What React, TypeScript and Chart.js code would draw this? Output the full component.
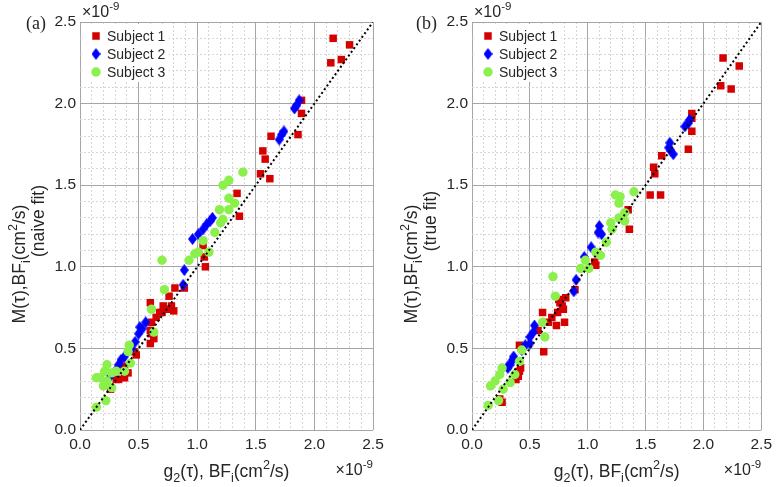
import React, { useEffect, useRef } from 'react';
import { Chart, registerables } from 'chart.js';

Chart.register(...registerables);

// ---------- data (values in units of 1e-9 cm^2/s) ----------
const naiveS1X = [2.16, 2.30, 2.14, 2.23, 1.89, 1.89, 1.63, 1.86, 1.56, 1.58, 1.54, 1.62, 1.34, 1.36, 1.05, 1.06, 1.07, 0.81, 0.89, 0.76, 0.71, 0.78, 0.60, 0.80, 0.68, 0.74, 0.65, 0.61, 0.60, 0.63, 0.60, 0.48, 0.46, 0.41, 0.38, 0.31, 0.38, 0.33, 0.26, 0.61, 0.70];
const naiveS1Y = [2.40, 2.36, 2.25, 2.27, 2.02, 1.94, 1.80, 1.81, 1.71, 1.66, 1.57, 1.54, 1.45, 1.31, 1.13, 1.06, 1.00, 0.87, 0.87, 0.82, 0.76, 0.76, 0.78, 0.73, 0.72, 0.74, 0.69, 0.66, 0.61, 0.56, 0.53, 0.46, 0.48, 0.35, 0.39, 0.31, 0.32, 0.31, 0.25, 0.59, 0.72];

const naiveS2X = [1.83, 1.85, 1.87, 1.70, 1.72, 1.74, 0.96, 1.01, 1.05, 1.08, 1.11, 1.13, 0.89, 0.88, 0.56, 0.53, 0.50, 0.47, 0.44, 0.38, 0.35, 0.33, 0.31, 0.26, 0.51];
const naiveS2Y = [1.97, 1.99, 2.02, 1.78, 1.81, 1.83, 1.17, 1.20, 1.23, 1.26, 1.28, 1.30, 0.98, 0.89, 0.66, 0.62, 0.59, 0.54, 0.50, 0.45, 0.43, 0.40, 0.37, 0.33, 0.63];

const naiveS3X = [1.39, 1.27, 1.22, 1.27, 1.32, 1.19, 1.27, 1.22, 1.20, 1.15, 1.05, 1.10, 0.98, 0.93, 1.01, 0.70, 0.72, 0.61, 0.63, 0.42, 0.41, 0.43, 0.38, 0.23, 0.21, 0.17, 0.27, 0.31, 0.27, 0.23, 0.22, 0.14, 0.14, 0.20];
const naiveS3Y = [1.58, 1.53, 1.50, 1.42, 1.39, 1.35, 1.35, 1.29, 1.27, 1.21, 1.16, 1.09, 1.08, 1.04, 1.09, 1.04, 0.86, 0.74, 0.60, 0.52, 0.48, 0.41, 0.36, 0.40, 0.36, 0.32, 0.35, 0.36, 0.26, 0.30, 0.18, 0.14, 0.32, 0.27];

const trueS1X = [2.17, 2.31, 2.15, 2.24, 1.90, 1.90, 1.90, 1.87, 1.64, 1.57, 1.58, 1.54, 1.63, 1.35, 1.36, 1.07, 1.06, 0.89, 0.81, 0.78, 0.61, 0.69, 0.74, 0.79, 0.80, 0.73, 0.66, 0.76, 0.75, 0.62, 0.57, 0.41, 0.41, 0.40, 0.42, 0.38, 0.24, 0.26];
const trueS1Y = [2.28, 2.23, 2.11, 2.09, 1.94, 1.91, 1.83, 1.72, 1.68, 1.61, 1.57, 1.44, 1.44, 1.35, 1.23, 1.01, 1.03, 0.86, 0.81, 0.76, 0.72, 0.69, 0.72, 0.74, 0.66, 0.64, 0.66, 0.78, 0.80, 0.48, 0.61, 0.52, 0.36, 0.33, 0.38, 0.31, 0.19, 0.17];

const trueS2X = [1.84, 1.87, 1.88, 1.71, 1.70, 1.74, 1.72, 1.10, 1.09, 1.12, 1.03, 0.97, 0.90, 0.88, 0.54, 0.53, 0.50, 0.46, 0.36, 0.33, 0.31, 0.43, 0.50, 0.35, 0.31];
const trueS2Y = [1.86, 1.88, 1.90, 1.76, 1.73, 1.69, 1.71, 1.25, 1.21, 1.20, 1.12, 1.06, 0.92, 0.85, 0.64, 0.60, 0.57, 0.52, 0.45, 0.40, 0.38, 0.49, 0.53, 0.43, 0.39];

const trueS3X = [1.24, 1.28, 1.27, 1.40, 1.32, 1.27, 1.32, 1.20, 1.21, 1.16, 1.11, 1.07, 0.98, 1.01, 0.94, 0.70, 0.72, 0.61, 0.63, 0.43, 0.41, 0.37, 0.26, 0.24, 0.20, 0.16, 0.27, 0.23, 0.14, 0.33];
const trueS3Y = [1.44, 1.43, 1.39, 1.46, 1.33, 1.30, 1.28, 1.27, 1.23, 1.15, 1.07, 1.09, 1.04, 0.99, 0.99, 0.94, 0.82, 0.66, 0.57, 0.49, 0.42, 0.34, 0.38, 0.34, 0.30, 0.27, 0.25, 0.18, 0.15, 0.29];

const identityX = [0, 2.5];
const identityY = [0, 2.5];

const axisMin = 0;
const axisMax = 2.5;
const minorStep = 0.1;

const legendLabels = ['Subject 1', 'Subject 2', 'Subject 3'];
const panelLabels = ['(a)', '(b)'];
const fitLabels = ['(naive fit)', '(true fit)'];
const exponentText = '-9';

// ---------- styles ----------
const RED = '#d50000';
const BLUE = '#0000ff';
const GREEN = '#8cf04c';
const TEXT = '#262626';
const FONT = "'Liberation Sans', Arial, sans-serif";
const SERIF = "'Liberation Serif', 'Times New Roman', serif";

type Seg = { t: string; k?: 'sub' | 'sup' };

function segFont(fs: number, s: Seg) {
  return `${s.k ? fs * 0.72 : fs}px ${FONT}`;
}

function richWidth(ctx: CanvasRenderingContext2D, segs: Seg[], fs: number) {
  let w = 0;
  for (const s of segs) {
    ctx.font = segFont(fs, s);
    w += ctx.measureText(s.t).width;
  }
  return w;
}

function drawRich(ctx: CanvasRenderingContext2D, segs: Seg[], x: number, y: number, fs: number, align: 'left' | 'center' | 'right') {
  const w = richWidth(ctx, segs, fs);
  let cx = align === 'left' ? x : align === 'center' ? x - w / 2 : x - w;
  ctx.fillStyle = TEXT;
  ctx.textAlign = 'left';
  ctx.textBaseline = 'alphabetic';
  for (const s of segs) {
    ctx.font = segFont(fs, s);
    const dy = s.k === 'sub' ? fs * 0.3 : s.k === 'sup' ? -fs * 0.45 : 0;
    ctx.fillText(s.t, cx, y + dy);
    cx += ctx.measureText(s.t).width;
  }
}

function makeDiamond(w: number, h: number, color: string) {
  const c = document.createElement('canvas');
  c.width = w;
  c.height = h;
  const g = c.getContext('2d')!;
  g.fillStyle = color;
  g.beginPath();
  g.moveTo(w / 2, 0);
  g.lineTo(w, h / 2);
  g.lineTo(w / 2, h);
  g.lineTo(0, h / 2);
  g.closePath();
  g.fill();
  return c;
}

const zip = (xs: number[], ys: number[]) => xs.map((x, i) => ({ x, y: ys[i] }));

const isMajor = (v: number) => Math.round(v * 10) % 5 === 0;

function buildChart(canvas: HTMLCanvasElement, panel: number) {
  const s1x = panel === 0 ? naiveS1X : trueS1X;
  const s1y = panel === 0 ? naiveS1Y : trueS1Y;
  const s2x = panel === 0 ? naiveS2X : trueS2X;
  const s2y = panel === 0 ? naiveS2Y : trueS2Y;
  const s3x = panel === 0 ? naiveS3X : trueS3X;
  const s3y = panel === 0 ? naiveS3Y : trueS3Y;
  const yAxisWidth = panel === 0 ? 80 : 82;
  const rightPad = panel === 0 ? 17 : 13;
  const diamond = makeDiamond(9, 12, BLUE);

  const overlay = {
    id: 'overlay' + panel,
    afterDatasetsDraw(chart: any) {
      const ctx: CanvasRenderingContext2D = chart.ctx;
      const a = chart.chartArea;
      ctx.save();
      ctx.fillStyle = '#ffffff';
      ctx.fillRect(a.left + 2, a.top + 2, 87, 58);
      const rows = [14, 32, 50];
      const mx = a.left + 16;
      ctx.fillStyle = RED;
      ctx.fillRect(mx - 3.75, a.top + rows[0] - 3.75, 7.5, 7.5);
      ctx.drawImage(diamond, mx - 4.5, a.top + rows[1] - 6);
      ctx.fillStyle = GREEN;
      ctx.beginPath();
      ctx.arc(mx, a.top + rows[2], 4.7, 0, Math.PI * 2);
      ctx.fill();
      ctx.fillStyle = TEXT;
      ctx.font = `14px ${FONT}`;
      ctx.textBaseline = 'middle';
      ctx.textAlign = 'left';
      legendLabels.forEach((l, i) => ctx.fillText(l, a.left + 27, a.top + rows[i] + 1));
      ctx.restore();
    },
    afterDraw(chart: any) {
      const ctx: CanvasRenderingContext2D = chart.ctx;
      const a = chart.chartArea;
      ctx.save();
      ctx.fillStyle = TEXT;
      ctx.font = `18px ${SERIF}`;
      ctx.textAlign = 'left';
      ctx.textBaseline = 'alphabetic';
      ctx.fillText(panelLabels[panel], 26, 29);
      drawRich(ctx, [{ t: '\u00d710' }, { t: exponentText, k: 'sup' }], a.left + 2, 17, 16, 'left');
      drawRich(ctx, [{ t: '\u00d710' }, { t: exponentText, k: 'sup' }], a.right, 475, 16, 'right');
      drawRich(
        ctx,
        [{ t: 'g' }, { t: '2', k: 'sub' }, { t: '(\u03c4), BF' }, { t: 'i', k: 'sub' }, { t: '(cm' }, { t: '2', k: 'sup' }, { t: '/s)' }],
        (a.left + a.right) / 2,
        477,
        17.5,
        'center'
      );
      const lineX1 = panel === 0 ? 19 : 21;
      const lineX2 = panel === 0 ? 38 : 40;
      ctx.save();
      ctx.translate(lineX1, 264);
      ctx.rotate(-Math.PI / 2);
      drawRich(
        ctx,
        [{ t: 'M(\u03c4),BF' }, { t: 'i', k: 'sub' }, { t: '(cm' }, { t: '2', k: 'sup' }, { t: '/s)' }],
        0,
        6,
        17.5,
        'center'
      );
      ctx.restore();
      ctx.save();
      ctx.translate(lineX2, 221);
      ctx.rotate(-Math.PI / 2);
      drawRich(ctx, [{ t: fitLabels[panel] }], 0, 6, 17.5, 'center');
      ctx.restore();
      ctx.restore();
    },
  };

  const tickCallback = (v: any) => (isMajor(Number(v)) ? (Math.round(Number(v) * 10) / 10).toFixed(1) : '');
  const gridColor = (c: any) => (c.tick && isMajor(c.tick.value) ? '#a6a6a6' : '#d6d6d6');
  const gridDash = (c: any) => (c.tick && !isMajor(c.tick.value) ? [2, 2] : []);

  const axisCommon = {
    type: 'linear' as const,
    min: axisMin,
    max: axisMax,
    grid: { color: gridColor, lineWidth: 1, drawTicks: false },
    border: { display: false, dash: gridDash },
  };

  return new Chart(canvas, {
    type: 'scatter',
    data: {
      datasets: [
        {
          type: 'line',
          label: 'identity',
          data: zip(identityX, identityY),
          borderColor: '#000000',
          borderWidth: 2,
          borderDash: [2, 2.6],
          pointRadius: 0,
          fill: false,
          order: 0,
        } as any,
        {
          label: legendLabels[2],
          data: zip(s3x, s3y),
          pointStyle: 'circle',
          pointRadius: 4.7,
          backgroundColor: GREEN,
          borderColor: GREEN,
          borderWidth: 0,
          order: 1,
        },
        {
          label: legendLabels[1],
          data: zip(s2x, s2y),
          pointStyle: diamond as any,
          pointRadius: 5,
          backgroundColor: BLUE,
          borderColor: BLUE,
          borderWidth: 0,
          order: 2,
        },
        {
          label: legendLabels[0],
          data: zip(s1x, s1y),
          pointStyle: 'rect',
          pointRadius: 5.3,
          backgroundColor: RED,
          borderColor: RED,
          borderWidth: 0,
          order: 3,
        },
      ],
    },
    options: {
      responsive: false,
      animation: false,
      devicePixelRatio: 1,
      layout: { padding: { left: 0, right: rightPad, top: 22, bottom: 0 } },
      plugins: { legend: { display: false }, tooltip: { enabled: false } },
      scales: {
        x: {
          ...axisCommon,
          afterFit: (s: any) => {
            s.height = 57;
          },
          ticks: {
            stepSize: minorStep,
            autoSkip: false,
            maxRotation: 0,
            padding: 5,
            callback: tickCallback,
            color: TEXT,
            font: { family: FONT, size: 15.5 },
          },
        },
        y: {
          ...axisCommon,
          afterFit: (s: any) => {
            s.width = yAxisWidth;
          },
          ticks: {
            stepSize: minorStep,
            autoSkip: false,
            padding: 4,
            callback: tickCallback,
            color: TEXT,
            font: { family: FONT, size: 15.5 },
          },
        },
      },
    } as any,
    plugins: [overlay],
  });
}

export default function App() {
  const leftRef = useRef<HTMLCanvasElement>(null);
  const rightRef = useRef<HTMLCanvasElement>(null);

  useEffect(() => {
    document.body.style.margin = '0';
    const c1 = buildChart(leftRef.current!, 0);
    const c2 = buildChart(rightRef.current!, 1);
    return () => {
      c1.destroy();
      c2.destroy();
    };
  }, []);

  return (
    <div style={{ position: 'relative', width: 777, height: 487, background: '#fff', display: 'flex' }}>
      <canvas ref={leftRef} width={390} height={487} style={{ display: 'block', width: 390, height: 487 }} />
      <canvas ref={rightRef} width={387} height={487} style={{ display: 'block', width: 387, height: 487 }} />
    </div>
  );
}
